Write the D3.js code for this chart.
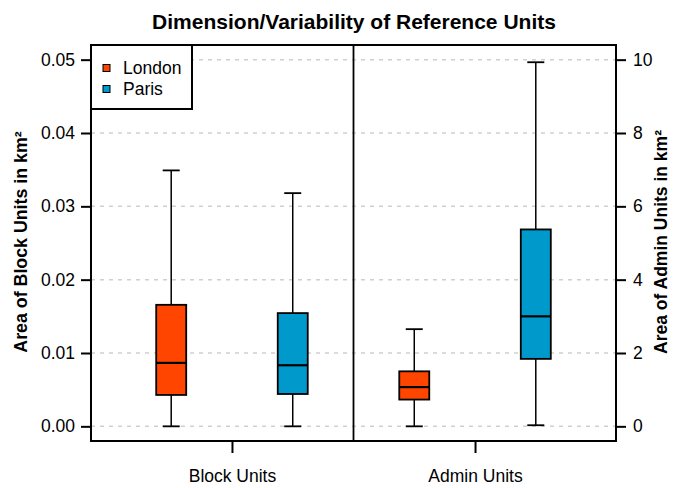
<!DOCTYPE html>
<html>
<head>
<meta charset="utf-8">
<script src="https://cdn.jsdelivr.net/npm/d3@7"></script>
<style>
  html, body { margin: 0; padding: 0; background: #fff; }
  svg text { font-family: Arial, "Liberation Sans", sans-serif; fill: #000; }
</style>
</head>
<body>
<svg id="chart" width="673" height="488"></svg>
<script>
// ---- Data ----
const groups = ["Block Units", "Admin Units"];
const cities = ["London", "Paris"];
const cityColors = ["#FF4500", "#0099CC"];
// five-number summaries: [min, q1, median, q3, max]
const blockLondon = [0.0000, 0.00428, 0.00865, 0.01657, 0.0349];
const blockParis  = [0.0000, 0.00441, 0.00833, 0.01544, 0.0318];
const adminLondon = [0.00, 0.73, 1.07, 1.50, 2.65];
const adminParis  = [0.03, 1.84, 3.00, 5.37, 9.93];
const leftTicks = [0.00, 0.01, 0.02, 0.03, 0.04, 0.05];
const leftTickLabels = ["0.00", "0.01", "0.02", "0.03", "0.04", "0.05"];
const rightTicks = [0, 2, 4, 6, 8, 10];
const titleText = "Dimension/Variability of Reference Units";
const leftLabel = "Area of Block Units in km\u00B2";
const rightLabel = "Area of Admin Units in km\u00B2";

const boxes = [
  { key: "b-L", group: 0, city: 0, stats: blockLondon, axis: "left" },
  { key: "b-P", group: 0, city: 1, stats: blockParis, axis: "left" },
  { key: "a-L", group: 1, city: 0, stats: adminLondon, axis: "right" },
  { key: "a-P", group: 1, city: 1, stats: adminParis, axis: "right" }
];

// ---- Layout ----
const svg = d3.select("#chart");
const plot = { left: 91, right: 616, top: 45, bottom: 441 };

const x = d3.scalePoint().domain(boxes.map(d => d.key))
  .range([plot.left, plot.right]).padding(0.66);
const yL = d3.scaleLinear().domain([-0.002, 0.052]).range([plot.bottom, plot.top]);
const yR = d3.scaleLinear().domain([-0.4, 10.4]).range([plot.bottom, plot.top]);

const boxW = 30, capW = 17;

// grid lines
svg.append("g").selectAll("line").data(leftTicks).join("line")
  .attr("x1", plot.left).attr("x2", plot.right)
  .attr("y1", d => yL(d)).attr("y2", d => yL(d))
  .attr("stroke", "#d0d0d0").attr("stroke-width", 1.5)
  .attr("stroke-dasharray", "4,5");

// divider
const divX = (x("b-P") + x("a-L")) / 2;
svg.append("line").attr("x1", divX).attr("x2", divX)
  .attr("y1", plot.top).attr("y2", plot.bottom)
  .attr("stroke", "#000").attr("stroke-width", 1.8);

// boxes
const bg = svg.append("g").selectAll("g").data(boxes).join("g");
bg.each(function(d) {
  const g = d3.select(this);
  const y = d.axis === "left" ? yL : yR;
  const cx = x(d.key);
  const [mn, q1, md, q3, mx] = d.stats;
  g.append("line").attr("x1", cx).attr("x2", cx).attr("y1", y(q3)).attr("y2", y(mx))
    .attr("stroke", "#000").attr("stroke-width", 1.5);
  g.append("line").attr("x1", cx).attr("x2", cx).attr("y1", y(q1)).attr("y2", y(mn))
    .attr("stroke", "#000").attr("stroke-width", 1.5);
  g.append("line").attr("x1", cx - capW / 2).attr("x2", cx + capW / 2).attr("y1", y(mx)).attr("y2", y(mx))
    .attr("stroke", "#000").attr("stroke-width", 1.8);
  g.append("line").attr("x1", cx - capW / 2).attr("x2", cx + capW / 2).attr("y1", y(mn)).attr("y2", y(mn))
    .attr("stroke", "#000").attr("stroke-width", 1.8);
  g.append("rect").attr("x", cx - boxW / 2).attr("width", boxW)
    .attr("y", y(q3)).attr("height", y(q1) - y(q3))
    .attr("fill", cityColors[d.city]).attr("stroke", "#000").attr("stroke-width", 1.8);
  g.append("line").attr("x1", cx - boxW / 2).attr("x2", cx + boxW / 2).attr("y1", y(md)).attr("y2", y(md))
    .attr("stroke", "#000").attr("stroke-width", 2.2);
});

// plot frame
svg.append("rect").attr("x", plot.left).attr("y", plot.top)
  .attr("width", plot.right - plot.left).attr("height", plot.bottom - plot.top)
  .attr("fill", "none").attr("stroke", "#000").attr("stroke-width", 2);

// left axis
const axL = svg.append("g").attr("transform", `translate(${plot.left},0)`)
  .call(d3.axisLeft(yL).tickValues(leftTicks).tickFormat((d, i) => leftTickLabels[i])
    .tickSize(10).tickPadding(6));
axL.select(".domain").remove();
axL.selectAll(".tick line").attr("stroke", "#000").attr("stroke-width", 2);
axL.selectAll(".tick text").style("font-size", "17.5px")
  .style("font-family", "Arial, 'Liberation Sans', sans-serif");

// right axis
const axR = svg.append("g").attr("transform", `translate(${plot.right},0)`)
  .call(d3.axisRight(yR).tickValues(rightTicks).tickFormat(d3.format("d"))
    .tickSize(10).tickPadding(7));
axR.select(".domain").remove();
axR.selectAll(".tick line").attr("stroke", "#000").attr("stroke-width", 2);
axR.selectAll(".tick text").style("font-size", "17.5px")
  .style("font-family", "Arial, 'Liberation Sans', sans-serif");

// bottom axis: one tick per group, at mean of its two boxes
const groupPos = groups.map((g, gi) => d3.mean(boxes.filter(b => b.group === gi), b => x(b.key)));
const xg = d3.scaleOrdinal().domain(groups).range(groupPos);
const axB = svg.append("g").attr("transform", `translate(0,${plot.bottom})`)
  .call(d3.axisBottom(xg).tickSize(12).tickPadding(17));
axB.select(".domain").remove();
axB.selectAll(".tick line").attr("stroke", "#000").attr("stroke-width", 2);
axB.selectAll(".tick text").style("font-size", "17.5px")
  .style("font-family", "Arial, 'Liberation Sans', sans-serif");

// title
svg.append("text").attr("x", 354).attr("y", 29).attr("text-anchor", "middle")
  .style("font-size", "21px").style("font-weight", "bold").text(titleText);

// y labels
const midY = (plot.top + plot.bottom) / 2 - 1;
svg.append("text").attr("transform", `translate(27,${midY}) rotate(-90)`)
  .attr("text-anchor", "middle").style("font-size", "17.8px").style("font-weight", "bold")
  .text(leftLabel);
svg.append("text").attr("transform", `translate(667,${midY}) rotate(-90)`)
  .attr("text-anchor", "middle").style("font-size", "17.5px").style("font-weight", "bold")
  .text(rightLabel);

// legend
const lg = svg.append("g");
lg.append("rect").attr("x", plot.left).attr("y", plot.top).attr("width", 101).attr("height", 64)
  .attr("fill", "#fff").attr("stroke", "#000").attr("stroke-width", 2);
const li = lg.selectAll("g.item").data(cities).join("g").attr("class", "item")
  .attr("transform", (d, i) => `translate(0,${68 + i * 21})`);
li.append("rect").attr("x", 103).attr("y", -3.5).attr("width", 7).attr("height", 7)
  .attr("fill", (d, i) => cityColors[i]).attr("stroke", "#000").attr("stroke-width", 1);
li.append("text").attr("x", 123).attr("y", 6).style("font-size", "17.5px").text(d => d);
</script>
</body>
</html>
